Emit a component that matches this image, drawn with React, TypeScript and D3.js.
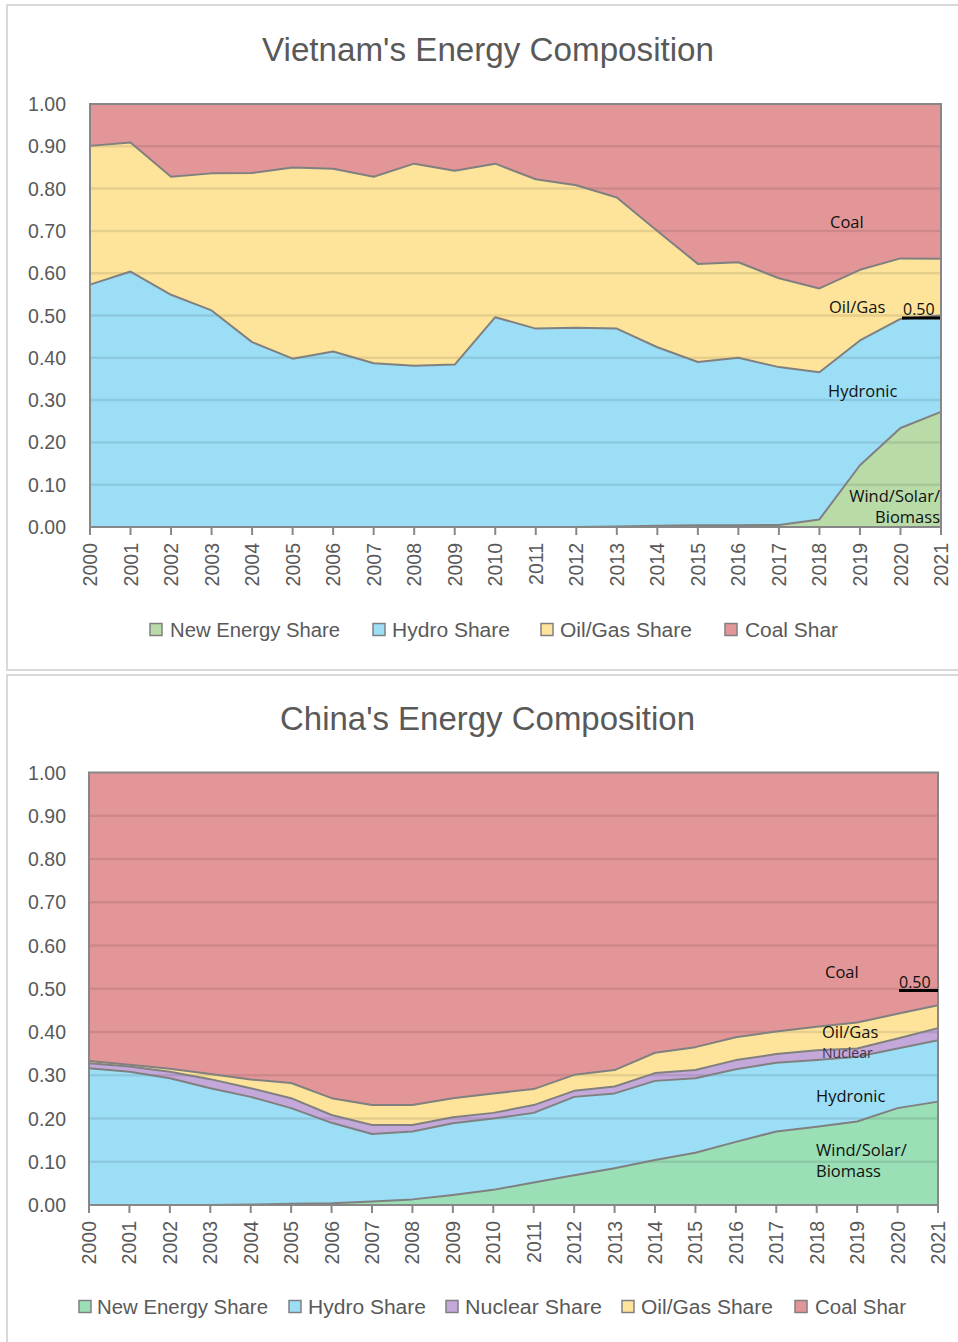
import React from "react";
import * as d3 from "d3";

const YEARS = [2000,2001,2002,2003,2004,2005,2006,2007,2008,2009,2010,2011,2012,2013,2014,2015,2016,2017,2018,2019,2020,2021];
const Y_TICKS = [0,0.1,0.2,0.3,0.4,0.5,0.6,0.7,0.8,0.9,1.0];

// Vietnam shares
const VN_NEW = [0,0,0,0,0,0,0,0,0,0,0,0,0,0.001,0.003,0.004,0.004,0.005,0.018,0.146,0.234,0.272];
const VN_HYDRO = [0.573,0.604,0.549,0.512,0.437,0.398,0.415,0.387,0.381,0.384,0.496,0.469,0.471,0.468,0.422,0.386,0.396,0.373,0.348,0.295,0.258,0.228];
const VN_OILGAS = [0.328,0.305,0.279,0.324,0.400,0.452,0.432,0.441,0.478,0.458,0.363,0.353,0.337,0.310,0.275,0.232,0.226,0.210,0.198,0.167,0.143,0.134];
const VN_COAL = [0.099,0.091,0.172,0.164,0.163,0.150,0.153,0.172,0.141,0.158,0.141,0.178,0.192,0.221,0.300,0.378,0.374,0.412,0.436,0.392,0.365,0.366];

// China shares
const CN_NEW = [0,0,0,0,0.001,0.003,0.004,0.008,0.013,0.023,0.035,0.052,0.069,0.085,0.104,0.121,0.146,0.170,0.181,0.193,0.224,0.239];
const CN_HYDRO = [0.316,0.308,0.293,0.270,0.249,0.221,0.186,0.156,0.157,0.166,0.165,0.161,0.181,0.173,0.183,0.172,0.168,0.159,0.154,0.150,0.138,0.142];
const CN_NUCLEAR = [0.012,0.012,0.015,0.021,0.020,0.023,0.018,0.021,0.015,0.014,0.013,0.018,0.014,0.016,0.018,0.019,0.021,0.020,0.023,0.019,0.023,0.028];
const CN_OILGAS = [0.005,0.004,0.007,0.012,0.020,0.035,0.039,0.046,0.046,0.044,0.045,0.037,0.037,0.038,0.047,0.053,0.053,0.052,0.054,0.060,0.057,0.053];
const CN_COAL = [0.667,0.676,0.685,0.697,0.710,0.718,0.753,0.769,0.769,0.753,0.742,0.732,0.699,0.688,0.648,0.635,0.612,0.599,0.588,0.578,0.558,0.538];

const VN_SERIES = ["New Energy Share","Hydro Share","Oil/Gas Share","Coal Shar"];
const CN_SERIES = ["New Energy Share","Hydro Share","Nuclear Share","Oil/Gas Share","Coal Shar"];

const C_COAL = "#E39697";
const C_OIL = "#FDE49A";
const C_HYDRO = "#9BDEF6";
const C_VN_NEW = "#B8DBA8";
const C_CN_NEW = "#9ADFB6";
const C_NUC = "#C5A8DA";

const TEXT_GRAY = "#595959";
const LINE_GRAY = "#808080";

type Label = { text: string; x: number; y: number; anchor?: string; fill?: string; size?: number };
type LegendItem = { sq: number; tx: number; tl: number };

type ChartProps = {
  title: string;
  titleX: number;
  titleLen: number;
  titleY: number;
  keys: string[];
  values: number[][];
  colors: string[];
  x0: number; x1: number; y0: number; y1: number;
  legendY: number;
  legend: LegendItem[];
  labels: Label[];
  markX0: number; markX1: number; markTextX: number; markY: number;
};

function Chart(p: ChartProps) {
  const x = d3.scaleLinear().domain([2000, 2021]).range([p.x0, p.x1]);
  const y = d3.scaleLinear().domain([0, 1]).range([p.y0, p.y1]);
  const rows = YEARS.map((yr, i) => {
    const r: any = { year: yr };
    p.keys.forEach((k, j) => (r[k] = p.values[j][i]));
    return r;
  });
  const stacked = d3.stack<any>().keys(p.keys)(rows);
  const area = d3.area<any>().x((d) => x(d.data.year)).y0((d) => y(d[0])).y1((d) => y(d[1]));
  const topLine = d3.line<any>().x((d) => x(d.data.year)).y((d) => y(d[1]));
  const font = "'Liberation Sans', Arial, sans-serif";
  const innerFont = "'Open Sans', 'Noto Sans', sans-serif";
  return (
    <g>
      <text x={p.titleX} y={p.titleY} fontSize={33} fill={TEXT_GRAY} fontFamily="'Liberation Sans Narrow', 'Liberation Sans', sans-serif" textLength={p.titleLen} lengthAdjust="spacingAndGlyphs">{p.title}</text>
      {stacked.map((s, i) => (
        <path key={"a" + i} d={area(s) || ""} fill={p.colors[i]} stroke="none" />
      ))}
      {Y_TICKS.filter((t) => t > 0 && t < 1).map((t) => (
        <line key={"g" + t} x1={p.x0} x2={p.x1} y1={y(t)} y2={y(t)} stroke="rgba(0,0,0,0.09)" strokeWidth={2.5} />
      ))}
      {stacked.slice(0, stacked.length - 1).map((s, i) => (
        <path key={"l" + i} d={topLine(s) || ""} fill="none" stroke={LINE_GRAY} strokeWidth={2} strokeLinejoin="round" />
      ))}
      <rect x={p.x0} y={p.y1} width={p.x1 - p.x0} height={p.y0 - p.y1} fill="none" stroke="#878787" strokeWidth={2} />
      {YEARS.map((yr) => (
        <g key={"x" + yr}>
          <line x1={x(yr)} x2={x(yr)} y1={p.y0} y2={p.y0 + 8} stroke="#878787" strokeWidth={2} />
          <text transform={`translate(${x(yr)},${p.y0 + 16}) rotate(-90)`} textAnchor="end" dy="0.36em" fontSize={19.5} fill={TEXT_GRAY} fontFamily={font}>{yr}</text>
        </g>
      ))}
      {Y_TICKS.map((t) => (
        <text key={"y" + t} x={66} y={y(t)} dy="0.36em" textAnchor="end" fontSize={19.5} fill={TEXT_GRAY} fontFamily={font}>{t.toFixed(2)}</text>
      ))}
      {p.labels.map((l, i) => (
        <text key={"lb" + i} x={l.x} y={l.y} textAnchor={l.anchor || "start"} fontSize={l.size || 16.5} fill={l.fill || "#111"} fontFamily={innerFont}>{l.text}</text>
      ))}
      <text x={p.markTextX} y={p.markY - 3} fontSize={16} fill="#111" fontFamily={innerFont}>0.50</text>
      <line x1={p.markX0} x2={p.markX1} y1={p.markY} y2={p.markY} stroke="#000" strokeWidth={3} />
      {p.legend.map((it, i) => (
        <g key={"lg" + i}>
          <rect x={it.sq} y={p.legendY - 6.5} width={12} height={12} fill={p.colors[i]} stroke={LINE_GRAY} strokeWidth={1.5} />
          <text x={it.tx} y={p.legendY} dy="0.36em" fontSize={20} fill={TEXT_GRAY} fontFamily="'Liberation Sans Narrow', 'Liberation Sans', sans-serif" textLength={it.tl} lengthAdjust="spacingAndGlyphs">{p.keys[i]}</text>
        </g>
      ))}
    </g>
  );
}

export default function App() {
  return (
    <svg width={958} height={1342} style={{ position: "absolute", left: 0, top: 0, background: "#fff" }}>
      <rect x={7} y={5} width={960} height={665} fill="#fff" stroke="#d9d9d9" strokeWidth={2} />
      <rect x={7} y={675} width={960} height={680} fill="#fff" stroke="#d9d9d9" strokeWidth={2} />
      <Chart
        title="Vietnam's Energy Composition" titleX={262} titleLen={452} titleY={61}
        keys={VN_SERIES}
        values={[VN_NEW, VN_HYDRO, VN_OILGAS, VN_COAL]}
        colors={[C_VN_NEW, C_HYDRO, C_OIL, C_COAL]}
        x0={90} x1={941} y0={527} y1={104}
        legendY={630}
        legend={[{ sq: 150, tx: 170, tl: 170 }, { sq: 373, tx: 392, tl: 118 }, { sq: 541, tx: 560, tl: 132 }, { sq: 725, tx: 745, tl: 93 }]}
        labels={[
          { text: "Coal", x: 830, y: 228 },
          { text: "Oil/Gas", x: 829, y: 313 },
          { text: "Hydronic", x: 828, y: 397 },
          { text: "Wind/Solar/", x: 940, y: 502, anchor: "end" },
          { text: "Biomass", x: 940, y: 523, anchor: "end" },
        ]}
        markX0={902} markX1={940} markTextX={903} markY={318}
      />
      <Chart
        title="China's Energy Composition" titleX={280} titleLen={415} titleY={730}
        keys={CN_SERIES}
        values={[CN_NEW, CN_HYDRO, CN_NUCLEAR, CN_OILGAS, CN_COAL]}
        colors={[C_CN_NEW, C_HYDRO, C_NUC, C_OIL, C_COAL]}
        x0={89} x1={938} y0={1205} y1={772.5}
        legendY={1307}
        legend={[{ sq: 79, tx: 97, tl: 171 }, { sq: 289, tx: 308, tl: 118 }, { sq: 446, tx: 465, tl: 137 }, { sq: 622, tx: 641, tl: 132 }, { sq: 795, tx: 815, tl: 91 }]}
        labels={[
          { text: "Coal", x: 825, y: 978 },
          { text: "Oil/Gas", x: 822, y: 1038 },
          { text: "Nuclear", x: 822, y: 1058, fill: "#3d3550", size: 14 },
          { text: "Hydronic", x: 816, y: 1102 },
          { text: "Wind/Solar/", x: 816, y: 1156 },
          { text: "Biomass", x: 816, y: 1177 },
        ]}
        markX0={899} markX1={938} markTextX={899} markY={990.5}
      />
    </svg>
  );
}
